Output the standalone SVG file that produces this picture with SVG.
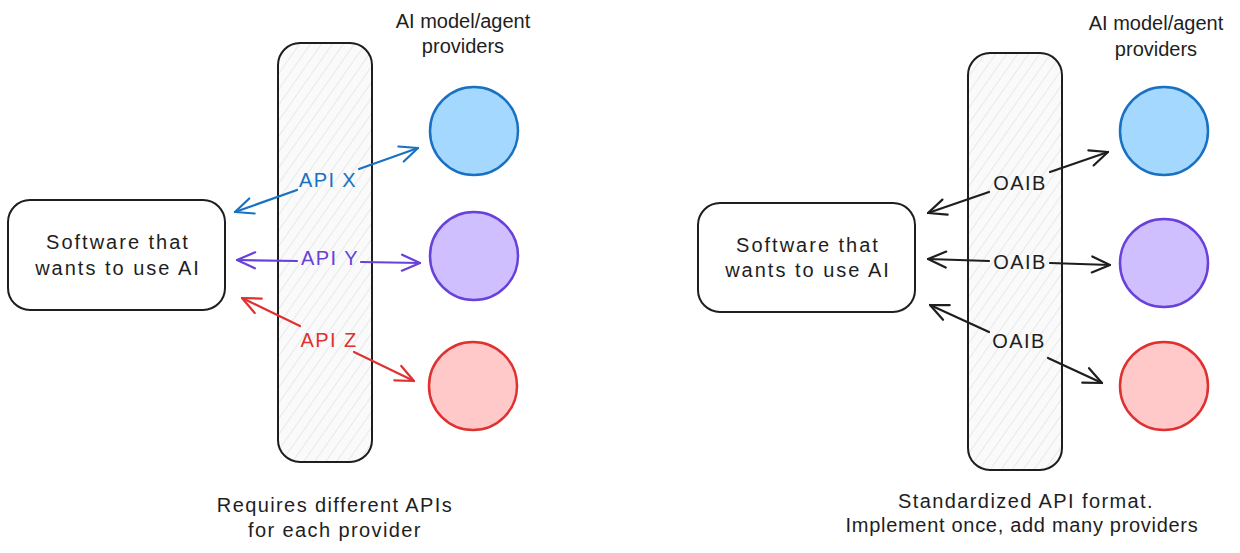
<svg xmlns="http://www.w3.org/2000/svg" width="1240" height="553" viewBox="0 0 1240 553">
<defs>
<style>
text{font-family:"Liberation Sans","DejaVu Sans",sans-serif;font-size:20px;text-anchor:middle;fill:#1e1e1e;letter-spacing:1.4px}
text.t{letter-spacing:0}
text.s{letter-spacing:2px}
text.n{letter-spacing:0.7px}
.box{fill:#ffffff;stroke:#1e1e1e;stroke-width:2}
.bar{fill:url(#hatch);stroke:#1e1e1e;stroke-width:2}
.conn{fill:none;stroke-width:2.2;stroke-linecap:round}
.b{stroke:#1971c2}.p{stroke:#6741d9}.r{stroke:#e03131}.k{stroke:#1e1e1e}
</style>
<pattern id="hatch" patternUnits="userSpaceOnUse" width="9" height="9" patternTransform="rotate(35)">
<rect width="9" height="9" fill="#fafafa"/>
<line x1="0" y1="0" x2="0" y2="9" stroke="#d4d8dc" stroke-width="1"/>
</pattern>
<marker id="mb" viewBox="0 0 22 22" refX="20" refY="11" markerWidth="22" markerHeight="22" markerUnits="userSpaceOnUse" orient="auto"><polyline points="2,3 20,11 2,19" fill="none" stroke="#1971c2" stroke-width="2.2" stroke-linecap="round" stroke-linejoin="round"/></marker>
<marker id="mp" viewBox="0 0 22 22" refX="20" refY="11" markerWidth="22" markerHeight="22" markerUnits="userSpaceOnUse" orient="auto"><polyline points="2,3 20,11 2,19" fill="none" stroke="#6741d9" stroke-width="2.2" stroke-linecap="round" stroke-linejoin="round"/></marker>
<marker id="mr" viewBox="0 0 22 22" refX="20" refY="11" markerWidth="22" markerHeight="22" markerUnits="userSpaceOnUse" orient="auto"><polyline points="2,3 20,11 2,19" fill="none" stroke="#e03131" stroke-width="2.2" stroke-linecap="round" stroke-linejoin="round"/></marker>
<marker id="mk" viewBox="0 0 22 22" refX="20" refY="11" markerWidth="22" markerHeight="22" markerUnits="userSpaceOnUse" orient="auto"><polyline points="2,3 20,11 2,19" fill="none" stroke="#1e1e1e" stroke-width="2.2" stroke-linecap="round" stroke-linejoin="round"/></marker>
</defs>
<rect width="1240" height="553" fill="#ffffff"/>

<!-- Left diagram -->
<g id="bar-left"><rect class="bar" x="278" y="43" width="94" height="419" rx="22"/></g>
<g id="software-left"><rect class="box" x="8" y="200" width="217" height="110" rx="22"/>
<text class="s" x="118" y="249">Software that</text><text class="s" x="118" y="275">wants to use AI</text></g>
<g id="title-left"><text class="t" x="463" y="28">AI model/agent</text><text class="t" x="463" y="53">providers</text></g>
<g id="provider-blue-left"><circle cx="474" cy="131" r="44" fill="#a5d8ff" stroke="#1971c2" stroke-width="2.5"/></g>
<g id="provider-purple-left"><circle cx="474" cy="256" r="44" fill="#d0bfff" stroke="#6741d9" stroke-width="2.5"/></g>
<g id="provider-red-left"><circle cx="473" cy="386" r="44" fill="#ffc9c9" stroke="#e03131" stroke-width="2.5"/></g>
<g id="caption-left"><text x="335" y="512">Requires different APIs</text><text x="335" y="537">for each provider</text></g>

<!-- Right diagram -->
<g id="bar-right"><rect class="bar" x="968" y="53" width="94" height="417" rx="22"/></g>
<g id="software-right"><rect class="box" x="698" y="203" width="217" height="109" rx="22"/>
<text class="s" x="808" y="252">Software that</text><text class="s" x="808" y="277">wants to use AI</text></g>
<g id="title-right"><text class="t" x="1156" y="30">AI model/agent</text><text class="t" x="1156" y="56">providers</text></g>
<g id="provider-blue-right"><circle cx="1164" cy="131" r="44" fill="#a5d8ff" stroke="#1971c2" stroke-width="2.5"/></g>
<g id="provider-purple-right"><circle cx="1164" cy="263" r="44" fill="#d0bfff" stroke="#6741d9" stroke-width="2.5"/></g>
<g id="provider-red-right"><circle cx="1164" cy="386" r="44" fill="#ffc9c9" stroke="#e03131" stroke-width="2.5"/></g>
<g id="caption-right"><text x="1026" y="508">Standardized API format.</text><text class="n" x="1022" y="532">Implement once, add many providers</text></g>

<g id="connectors">
<line class="conn b" x1="297" y1="190" x2="235" y2="212" marker-end="url(#mb)"/>
<line class="conn b" x1="359" y1="169" x2="418" y2="148" marker-end="url(#mb)"/>
<text x="328" y="187" style="fill:#1971c2">API X</text>
<line class="conn p" x1="297" y1="261" x2="237" y2="260" marker-end="url(#mp)"/>
<line class="conn p" x1="361" y1="262" x2="420" y2="263" marker-end="url(#mp)"/>
<text x="330" y="265" style="fill:#6741d9">API Y</text>
<line class="conn r" x1="300" y1="326" x2="242" y2="298" marker-end="url(#mr)"/>
<line class="conn r" x1="354" y1="352" x2="414" y2="381" marker-end="url(#mr)"/>
<text x="329" y="347" style="fill:#e03131">API Z</text>

<line class="conn k" x1="989" y1="192" x2="928" y2="213" marker-end="url(#mk)"/>
<line class="conn k" x1="1050" y1="172" x2="1108" y2="152" marker-end="url(#mk)"/>
<text x="1020" y="190">OAIB</text>
<line class="conn k" x1="989" y1="261" x2="928" y2="259" marker-end="url(#mk)"/>
<line class="conn k" x1="1050" y1="263" x2="1110" y2="265" marker-end="url(#mk)"/>
<text x="1020" y="269">OAIB</text>
<line class="conn k" x1="989" y1="332" x2="930" y2="305" marker-end="url(#mk)"/>
<line class="conn k" x1="1048" y1="358" x2="1102" y2="383" marker-end="url(#mk)"/>
<text x="1019" y="348">OAIB</text>
</g>
</svg>
